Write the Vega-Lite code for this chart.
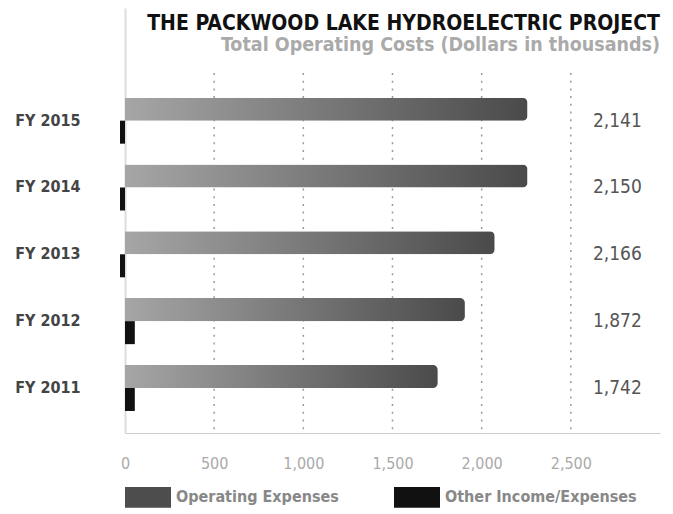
{
  "$schema": "https://vega.github.io/schema/vega-lite/v6.json",
  "width": 535,
  "height": 360,
  "autosize": {"type": "none"},
  "padding": {"left": 125, "top": 73, "right": 13, "bottom": 81},
  "background": "white",
  "config": {
    "view": {"stroke": null},
    "font": "DejaVu Sans Condensed"
  },
  "title": {
    "text": "THE PACKWOOD LAKE HYDROELECTRIC PROJECT",
    "subtitle": "Total Operating Costs (Dollars in thousands)",
    "anchor": "end",
    "frame": "group",
    "offset": 18,
    "font": "DejaVu Sans Condensed",
    "fontSize": 21,
    "fontWeight": "bold",
    "color": "#111111",
    "subtitleFont": "DejaVu Sans Condensed",
    "subtitleFontSize": 19.5,
    "subtitleFontWeight": "bold",
    "subtitleColor": "#aaaaaa",
    "subtitlePadding": 2
  },
  "datasets": {
    "bars": [
      {"fy": "FY 2015", "series": "Operating Expenses", "value": 2257},
      {"fy": "FY 2014", "series": "Operating Expenses", "value": 2257},
      {"fy": "FY 2013", "series": "Operating Expenses", "value": 2073},
      {"fy": "FY 2012", "series": "Operating Expenses", "value": 1906},
      {"fy": "FY 2011", "series": "Operating Expenses", "value": 1754},
      {"fy": "FY 2015", "series": "Other Income/Expenses", "value": -28},
      {"fy": "FY 2014", "series": "Other Income/Expenses", "value": -28},
      {"fy": "FY 2013", "series": "Other Income/Expenses", "value": -28},
      {"fy": "FY 2012", "series": "Other Income/Expenses", "value": 55},
      {"fy": "FY 2011", "series": "Other Income/Expenses", "value": 55}
    ],
    "totals": [
      {"fy": "FY 2015", "total": "2,141"},
      {"fy": "FY 2014", "total": "2,150"},
      {"fy": "FY 2013", "total": "2,166"},
      {"fy": "FY 2012", "total": "1,872"},
      {"fy": "FY 2011", "total": "1,742"}
    ],
    "grid": [
      {"v": 500}, {"v": 1000}, {"v": 1500}, {"v": 2000}, {"v": 2500}
    ]
  },
  "layer": [
    {
      "data": {"name": "grid"},
      "mark": {"type": "rule", "color": "#999999", "strokeWidth": 1.5, "strokeDash": [2, 5.7]},
      "encoding": {
        "x": {
          "field": "v",
          "type": "quantitative",
          "scale": {"domain": [0, 3000], "nice": false, "zero": false},
          "axis": {
            "title": null,
            "values": [0, 500, 1000, 1500, 2000, 2500],
            "format": ",d",
            "grid": false,
            "ticks": false,
            "domain": true,
            "domainColor": "#cccccc",
            "domainWidth": 1,
            "labelPadding": 22,
            "labelFontSize": 16,
            "labelColor": "#aaaaaa",
            "labelFlush": false
          }
        }
      }
    },
    {
      "data": {"name": "bars"},
      "transform": [{"filter": "datum.series === 'Other Income/Expenses'"}],
      "mark": {"type": "bar"},
      "encoding": {
        "x": {"field": "value", "type": "quantitative"},
        "y": {
          "field": "fy",
          "type": "nominal",
          "sort": ["FY 2015", "FY 2014", "FY 2013", "FY 2012", "FY 2011"],
          "scale": {"domain": ["FY 2015", "FY 2014", "FY 2013", "FY 2012", "FY 2011"], "range": [-65, 360], "paddingInner": 0, "paddingOuter": 0.68, "align": 0.872},
          "axis": {
            "title": null,
            "domain": true,
            "domainColor": "#dddddd",
            "domainWidth": 2,
            "ticks": false,
            "labelPadding": 45,
            "labelFontSize": 16,
            "labelFontWeight": "bold",
            "labelColor": "#444444",
            "grid": false
          }
        },
        "yOffset": {
          "field": "series",
          "type": "nominal",
          "scale": {"domain": ["Operating Expenses", "Other Income/Expenses"], "paddingInner": 0, "paddingOuter": 0.452}
        },
        "color": {
          "field": "series",
          "type": "nominal",
          "scale": {"domain": ["Operating Expenses", "Other Income/Expenses"], "range": ["#4d4d4d", "#111111"]},
          "legend": {
            "title": null,
            "orient": "none",
            "legendX": 0,
            "legendY": 401,
            "direction": "horizontal",
            "symbolType": "M-1,-0.45H1V0.45H-1Z",
            "symbolSize": 2116,
            "symbolStrokeWidth": 0,
            "symbolOpacity": 1,
            "labelFontSize": 16,
            "labelFontWeight": "bold",
            "labelColor": "#888888",
            "labelOffset": 5,
            "columnPadding": 55,
            "labelLimit": 300
          }
        }
      }
    },
    {
      "data": {"name": "bars"},
      "transform": [{"filter": "datum.series === 'Operating Expenses'"}],
      "mark": {
        "type": "bar",
        "cornerRadiusEnd": 5,
        "color": {
          "gradient": "linear",
          "x1": 0, "y1": 0, "x2": 1, "y2": 0,
          "stops": [
            {"offset": 0, "color": "#a6a6a6"},
            {"offset": 1, "color": "#4a4a4a"}
          ]
        }
      },
      "encoding": {
        "x": {"field": "value", "type": "quantitative"},
        "y": {"field": "fy", "type": "nominal"},
        "yOffset": {"field": "series", "type": "nominal"}
      }
    },
    {
      "data": {"name": "totals"},
      "mark": {"type": "text", "align": "left", "baseline": "middle", "fontSize": 19, "fontWeight": 500, "color": "#555555"},
      "encoding": {
        "x": {"datum": 2624},
        "y": {"field": "fy", "type": "nominal"},
        "text": {"field": "total"}
      }
    }
  ]
}
